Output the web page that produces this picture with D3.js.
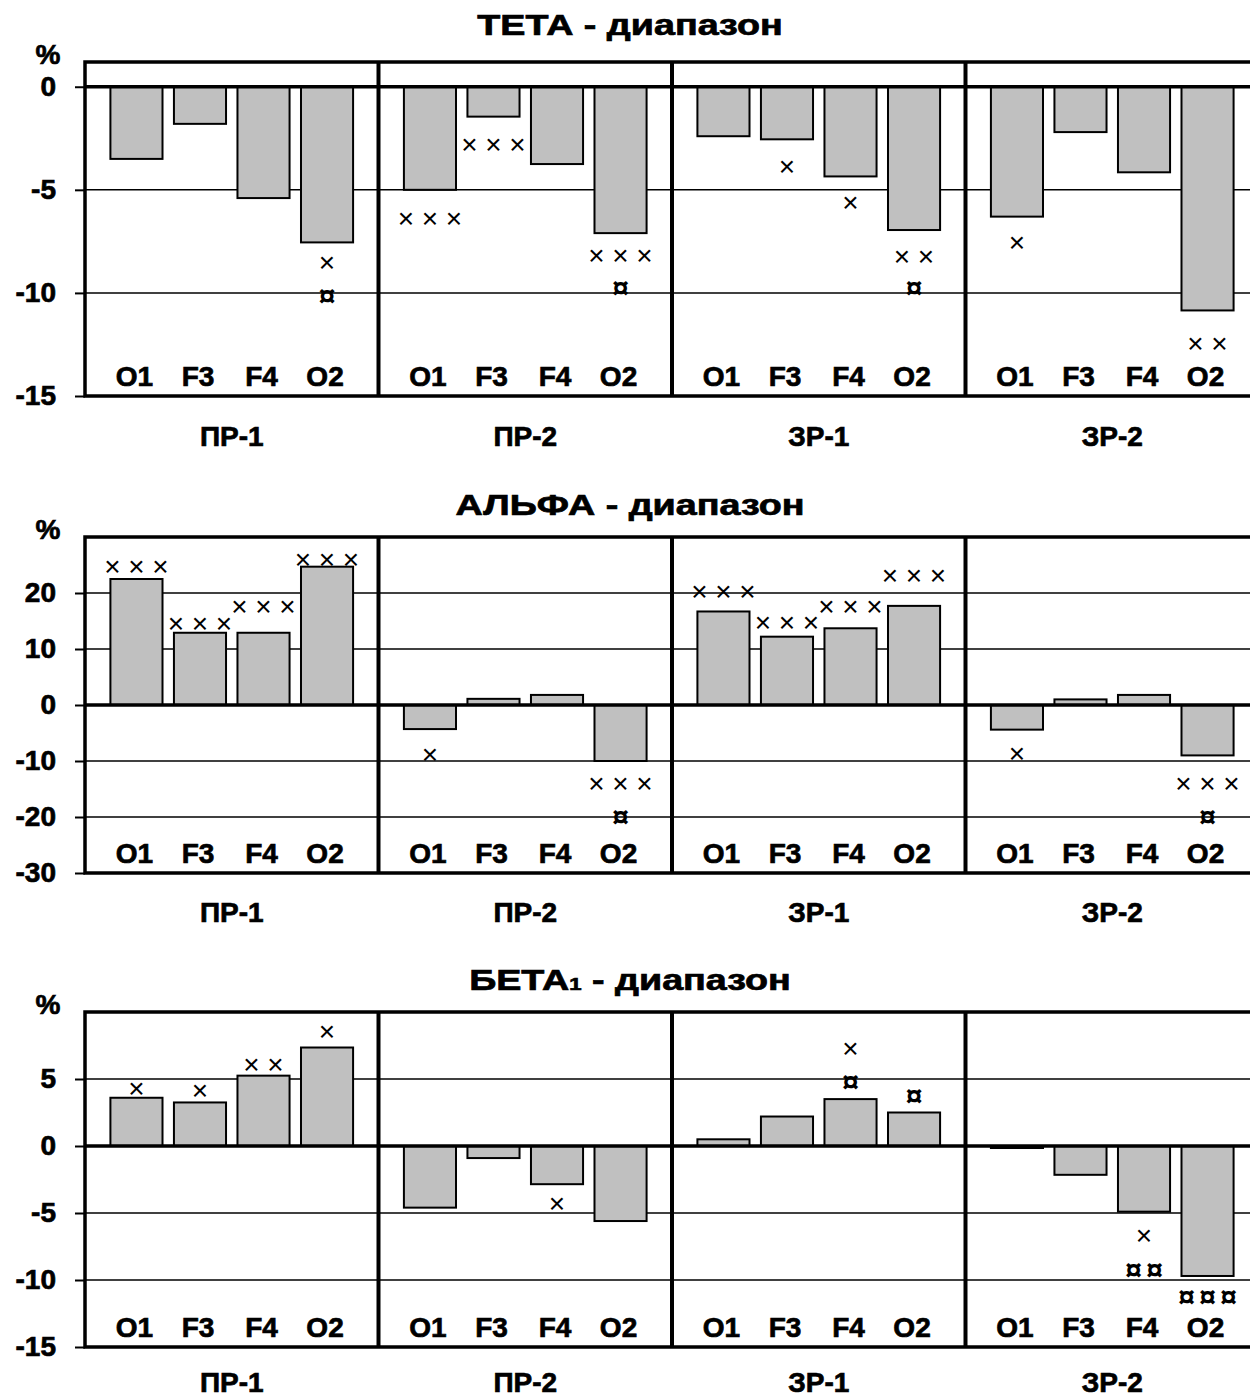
<!DOCTYPE html>
<html>
<head>
<meta charset="utf-8">
<script src="https://cdn.jsdelivr.net/npm/d3@7"></script>
<style>
  body { margin: 0; background: #fff; }
  svg { display: block; }
  text { font-family: "Liberation Sans", Arial, sans-serif; font-weight: bold; fill: #000; }
  text.heavy { stroke: #000; stroke-width: 0.7px; }
</style>
</head>
<body>
<svg id="chart" width="1250" height="1400"></svg>
<script>
// categories
const groups = ['ПР-1', 'ПР-2', 'ЗР-1', 'ЗР-2'];
const channels = ['O1', 'F3', 'F4', 'O2'];

// ТЕТА: one row per group, values in channel order
const tetaValues = [
  [-3.5, -1.8, -5.4, -7.55],
  [-5.0, -1.45, -3.75, -7.1],
  [-2.4, -2.55, -4.35, -6.95],
  [-6.3, -2.2, -4.15, -10.85]
];
const tetaTicks = [0, -5, -10, -15];
const tetaDomain = [-15, 1.2];
// [group, channel, sign, how many, level]
const tetaMarks = [
  ['ПР-1', 'O2', '×', 1, -8.5],
  ['ПР-1', 'O2', '¤', 1, -10.0],
  ['ПР-2', 'O1', '×', 3, -6.4],
  ['ПР-2', 'F3', '×', 3, -2.8],
  ['ПР-2', 'O2', '×', 3, -8.15],
  ['ПР-2', 'O2', '¤', 1, -9.65],
  ['ЗР-1', 'F3', '×', 1, -3.85],
  ['ЗР-1', 'F4', '×', 1, -5.6],
  ['ЗР-1', 'O2', '×', 2, -8.2],
  ['ЗР-1', 'O2', '¤', 1, -9.65],
  ['ЗР-2', 'O1', '×', 1, -7.55],
  ['ЗР-2', 'O2', '×', 2, -12.45]
];

// АЛЬФА
const alphaValues = [
  [22.5, 12.9, 12.9, 24.7],
  [-4.3, 1.1, 1.8, -10.0],
  [16.7, 12.2, 13.7, 17.7],
  [-4.4, 1.0, 1.8, -9.0]
];
const alphaTicks = [20, 10, 0, -10, -20, -30];
const alphaDomain = [-30, 30];
const alphaMarks = [
  ['ПР-1', 'O1', '×', 3, 24.8],
  ['ПР-1', 'F3', '×', 3, 14.6],
  ['ПР-1', 'F4', '×', 3, 17.6],
  ['ПР-1', 'O2', '×', 3, 26.1],
  ['ПР-2', 'O1', '×', 1, -8.8],
  ['ПР-2', 'O2', '×', 3, -14.0],
  ['ПР-2', 'O2', '¤', 1, -19.6],
  ['ЗР-1', 'O1', '×', 3, 20.4],
  ['ЗР-1', 'F3', '×', 3, 14.75],
  ['ЗР-1', 'F4', '×', 3, 17.7],
  ['ЗР-1', 'O2', '×', 3, 23.1],
  ['ЗР-2', 'O1', '×', 1, -8.6],
  ['ЗР-2', 'O2', '×', 3, -14.0],
  ['ЗР-2', 'O2', '¤', 1, -19.6]
];

// БЕТА1
const betaValues = [
  [3.6, 3.25, 5.25, 7.35],
  [-4.6, -0.9, -2.85, -5.6],
  [0.5, 2.2, 3.5, 2.5],
  [-0.15, -2.15, -4.9, -9.7]
];
const betaTicks = [5, 0, -5, -10, -15];
const betaDomain = [-15, 10];
const betaMarks = [
  ['ПР-1', 'O1', '×', 1, 4.3],
  ['ПР-1', 'F3', '×', 1, 4.2],
  ['ПР-1', 'F4', '×', 2, 6.1],
  ['ПР-1', 'O2', '×', 1, 8.6],
  ['ПР-2', 'F4', '×', 1, -4.3],
  ['ЗР-1', 'F4', '×', 1, 7.3],
  ['ЗР-1', 'F4', '¤', 1, 5.0],
  ['ЗР-1', 'O2', '¤', 1, 3.95],
  ['ЗР-2', 'F4', '×', 1, -6.65],
  ['ЗР-2', 'F4', '¤', 2, -9.05],
  ['ЗР-2', 'O2', '¤', 3, -11.1]
];

const panels = [
  { title: 'ТЕТА', sub: '', values: tetaValues, marks: tetaMarks, ticks: tetaTicks, domain: tetaDomain,
    top: 62, bottom: 396, titleY: 35, groupY: 446 },
  { title: 'АЛЬФА', sub: '', values: alphaValues, marks: alphaMarks, ticks: alphaTicks, domain: alphaDomain,
    top: 537, bottom: 873, titleY: 515, groupY: 922 },
  { title: 'БЕТА', sub: '1', values: betaValues, marks: betaMarks, ticks: betaTicks, domain: betaDomain,
    top: 1012, bottom: 1347, titleY: 990, groupY: 1392 }
];

const svg = d3.select('#chart');
const left = 85;
const right = 1259;

const x0 = d3.scaleBand().domain(groups).range([left, right]).padding(0);
const x1 = d3.scaleBand().domain(channels).range([0, x0.bandwidth()])
  .paddingInner(0.18).paddingOuter(0.4);

const drawPanel = (p) => {
  const g = svg.append('g');
  const y = d3.scaleLinear().domain(p.domain).range([p.bottom, p.top]);

  // title
  const t = g.append('text')
    .attr('class', 'heavy')
    .attr('transform', `translate(630,${p.titleY}) scale(1.3,1)`)
    .attr('text-anchor', 'middle')
    .attr('font-size', 29);
  t.append('tspan').text(p.title);
  if (p.sub) t.append('tspan').attr('font-size', 17).text(p.sub);
  t.append('tspan').text(' - диапазон');

  g.append('text')
    .attr('class', 'heavy')
    .attr('x', 48).attr('y', p.top + 2)
    .attr('text-anchor', 'middle')
    .attr('font-size', 28)
    .text('%');

  // grid
  g.selectAll('line.grid')
    .data(p.ticks.filter(v => v !== 0 && v !== p.domain[0]))
    .enter().append('line')
    .attr('class', 'grid')
    .attr('x1', left).attr('x2', right)
    .attr('y1', d => y(d)).attr('y2', d => y(d))
    .attr('stroke', '#000').attr('stroke-width', 1.5);

  // bars
  const rows = [];
  p.values.forEach((row, gi) => row.forEach((v, ci) => rows.push({ g: groups[gi], ch: channels[ci], v })));
  g.selectAll('rect.bar')
    .data(rows)
    .enter().append('rect')
    .attr('class', 'bar')
    .attr('x', d => x0(d.g) + x1(d.ch))
    .attr('width', x1.bandwidth())
    .attr('y', d => y(Math.max(0, d.v)))
    .attr('height', d => Math.abs(y(d.v) - y(0)))
    .attr('fill', '#c0c0c0')
    .attr('stroke', '#000')
    .attr('stroke-width', 2);

  // zero line
  g.append('line')
    .attr('x1', left).attr('x2', right)
    .attr('y1', y(0)).attr('y2', y(0))
    .attr('stroke', '#000').attr('stroke-width', 3.5);

  // frame and group dividers
  g.append('rect')
    .attr('x', left).attr('y', p.top)
    .attr('width', right - left).attr('height', p.bottom - p.top)
    .attr('fill', 'none').attr('stroke', '#000').attr('stroke-width', 3.5);
  g.selectAll('line.div')
    .data(groups.slice(1))
    .enter().append('line')
    .attr('class', 'div')
    .attr('x1', d => x0(d)).attr('x2', d => x0(d))
    .attr('y1', p.top).attr('y2', p.bottom)
    .attr('stroke', '#000').attr('stroke-width', 4);

  // y axis
  const axis = d3.axisLeft(y).tickValues(p.ticks).tickSize(10).tickPadding(19)
    .tickFormat(d => String(d));
  const ag = g.append('g')
    .attr('transform', `translate(${left},0)`)
    .call(axis);
  ag.attr('font-size', 28).attr('font-family', null);
  ag.select('.domain').remove();
  ag.selectAll('.tick line').attr('stroke', '#000').attr('stroke-width', 2);
  ag.selectAll('.tick text').attr('fill', '#000').attr('class', 'heavy');

  // channel labels
  g.selectAll('text.ch')
    .data(rows)
    .enter().append('text')
    .attr('class', 'ch heavy')
    .attr('x', d => x0(d.g) + x1(d.ch) + x1.bandwidth() / 2 - 2)
    .attr('y', p.bottom - 10)
    .attr('text-anchor', 'middle')
    .attr('font-size', 28)
    .text(d => d.ch);

  // group labels
  g.selectAll('text.grp')
    .data(groups)
    .enter().append('text')
    .attr('class', 'grp heavy')
    .attr('x', d => x0(d) + x0.bandwidth() / 2)
    .attr('y', p.groupY)
    .attr('text-anchor', 'middle')
    .attr('font-size', 28)
    .text(d => d);

  // significance marks
  const signs = [];
  p.marks.forEach(([grp, ch, s, n, v]) => {
    const step = s === '×' ? 24 : 21;
    for (let i = 0; i < n; i += 1) {
      signs.push({ x: x0(grp) + x1(ch) + x1.bandwidth() / 2 + (i - (n - 1) / 2) * step, v, s });
    }
  });
  g.selectAll('text.mark')
    .data(signs)
    .enter().append('text')
    .attr('class', 'mark')
    .attr('x', d => d.x)
    .attr('y', d => y(d.v))
    .attr('dy', d => (d.s === '×' ? '0.35em' : '0.42em'))
    .attr('text-anchor', 'middle')
    .attr('font-size', d => (d.s === '×' ? 28 : 30))
    .style('font-weight', d => (d.s === '×' ? 'normal' : 'bold'))
    .text(d => d.s);
};

panels.forEach(drawPanel);
</script>
</body>
</html>
